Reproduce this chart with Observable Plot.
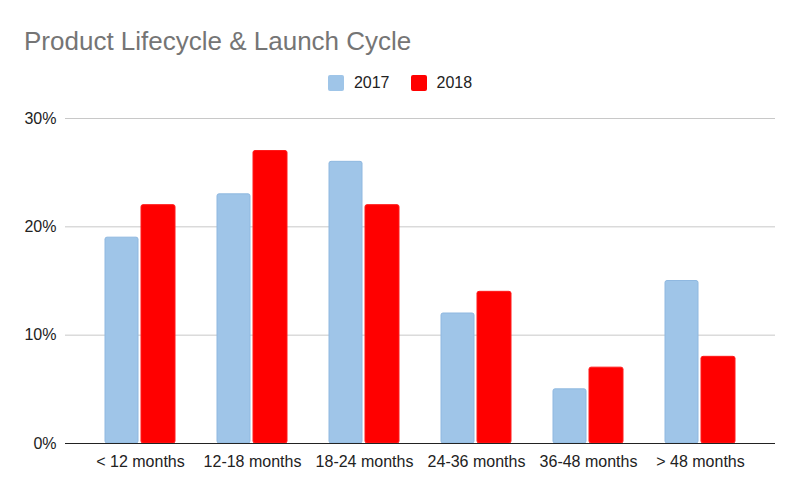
<!DOCTYPE html>
<html>
<head>
<meta charset="utf-8">
<script src="https://cdn.jsdelivr.net/npm/d3@7"></script>
<script src="https://cdn.jsdelivr.net/npm/@observablehq/plot@0.6"></script>
<style>
  html, body { margin: 0; padding: 0; background: #fff; }
  #wrap { position: relative; width: 800px; height: 495px; font-family: "Liberation Sans", Arial, sans-serif; }
  #title { position: absolute; left: 24px; top: 26px; font-size: 26px; line-height: 30px; color: #757575; white-space: nowrap; }
  #legend { position: absolute; left: 0; width: 800px; top: 75px; display: flex; justify-content: center; font-size: 16px; line-height: 16px; color: #222; }
  .item { display: flex; align-items: center; margin: 0 10.5px; }
  .sw { width: 16px; height: 16px; border-radius: 2px; margin-right: 10px; box-sizing: border-box; }
  #chart { position: absolute; left: 0; top: 100px; }
</style>
</head>
<body>
<div id="wrap">
  <div id="title">Product Lifecycle &amp; Launch Cycle</div>
  <div id="legend"></div>
  <div id="chart"></div>
</div>
<script>
const categories = ["< 12 months", "12-18 months", "18-24 months", "24-36 months", "36-48 months", "> 48 months"];
const series = ["2017", "2018"];
const values2017 = [19, 23, 26, 12, 5, 15];
const values2018 = [22, 27, 22, 14, 7, 8];
const yTicks = [0, 10, 20, 30];
const colors = {"2017": "#9fc5e8", "2018": "#ff0000"};
const strokes = {"2017": "#8fb8e0", "2018": "#ff1a1a"};

const data2017 = categories.map((c, i) => ({category: c, year: "2017", value: values2017[i]}));
const data2018 = categories.map((c, i) => ({category: c, year: "2018", value: values2018[i]}));

// legend
const legend = document.getElementById("legend");
series.forEach(s => {
  const it = document.createElement("div");
  it.className = "item";
  const sw = document.createElement("div");
  sw.className = "sw";
  sw.style.background = colors[s];
  const t = document.createElement("span");
  t.textContent = s;
  it.appendChild(sw); it.appendChild(t);
  legend.appendChild(it);
});

const chart = Plot.plot({
  width: 800,
  height: 395,
  marginTop: 18,
  marginBottom: 52,
  marginLeft: 65,
  marginRight: 25,
  style: {fontFamily: "'Liberation Sans', Arial, sans-serif", fontSize: "16px", color: "#222", background: "#fff"},
  x: {domain: categories, range: [84, 756], padding: 0, label: null, tickSize: 0, tickPadding: 12},
  y: {domain: [0, 30], label: null, ticks: yTicks, tickSize: 0, tickPadding: 9, tickFormat: d => d + "%"},
  marks: [
    Plot.ruleY(yTicks.filter(d => d > 0), {stroke: "#c8c8c8", strokeWidth: 1}),
    Plot.barY(data2017, {x: "category", y: "value", fill: colors["2017"], stroke: strokes["2017"], strokeWidth: 1, insetLeft: 21, insetRight: 58, rx: 2}),
    Plot.barY(data2018, {x: "category", y: "value", fill: colors["2018"], stroke: strokes["2018"], strokeWidth: 1, insetLeft: 57, insetRight: 21, rx: 2}),
    Plot.ruleY([0], {stroke: "#222", strokeWidth: 1.2})
  ]
});
document.getElementById("chart").appendChild(chart);
</script>
</body>
</html>
